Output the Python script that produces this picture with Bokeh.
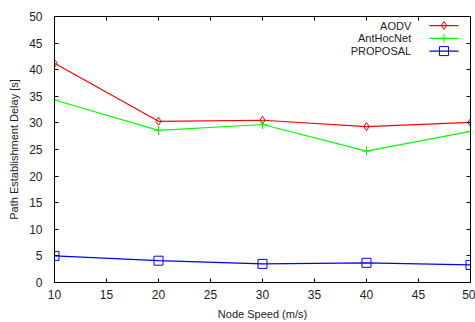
from bokeh.plotting import figure
from bokeh.models import LinearAxis, Range1d, FixedTicker, CustomJSTickFormatter
from bokeh.embed import file_html
from bokeh.resources import INLINE
from bokeh.core.properties import value

speeds = [10, 20, 30, 40, 50]
aodv = [41.2, 30.3, 30.5, 29.3, 30.1]
anthocnet = [34.3, 28.6, 29.7, 24.7, 28.4]
proposal = [5.0, 4.1, 3.5, 3.7, 3.3]

series_names = ["AODV", "AntHocNet", "PROPOSAL"]
x_ticks = [10, 15, 20, 25, 30, 35, 40, 45, 50]
y_ticks = [0, 5, 10, 15, 20, 25, 30, 35, 40, 45, 50]

FONT = "Liberation Sans"
TXT = "#222222"

p = figure(width=475, height=322, output_backend="svg", toolbar_location=None,
           x_range=Range1d(10, 50), y_range=Range1d(0, 50),
           min_border_left=54, min_border_right=5, min_border_top=16, min_border_bottom=39)
p.grid.visible = False
p.outline_line_color = "black"
p.outline_line_width = 1
p.background_fill_color = "white"
p.border_fill_color = "white"

for ax in (p.xaxis[0], p.yaxis[0]):
    ax.major_tick_in = 4
    ax.major_tick_out = 0
    ax.minor_tick_in = 0
    ax.minor_tick_out = 0
    ax.axis_line_color = "black"
    ax.major_tick_line_color = "black"
    ax.major_label_text_font = FONT
    ax.major_label_text_font_size = "12px"
    ax.major_label_text_color = TXT
    ax.axis_label_text_font = FONT
    ax.axis_label_text_font_size = "11px"
    ax.axis_label_text_font_style = "normal"
    ax.axis_label_text_color = TXT

p.xaxis[0].ticker = FixedTicker(ticks=x_ticks)
p.yaxis[0].ticker = FixedTicker(ticks=y_ticks)
p.xaxis[0].axis_label = "Node Speed (m/s)"
p.yaxis[0].axis_label = "Path Establishment Delay [s]"
p.xaxis[0].major_label_standoff = 7
p.yaxis[0].major_label_standoff = 12
p.xaxis[0].axis_label_standoff = 6
p.yaxis[0].axis_label_standoff = 6

blank = CustomJSTickFormatter(code="return ''")
top = LinearAxis(ticker=FixedTicker(ticks=x_ticks), formatter=blank,
                 major_tick_in=4, major_tick_out=0, minor_tick_in=0, minor_tick_out=0,
                 major_label_standoff=0, axis_line_color="black")
right = LinearAxis(ticker=FixedTicker(ticks=y_ticks), formatter=blank,
                   major_tick_in=4, major_tick_out=0, minor_tick_in=0, minor_tick_out=0,
                   major_label_standoff=0, axis_line_color="black")
p.add_layout(top, "above")
p.add_layout(right, "right")

colors = ["#ff0000", "#00ff00", "#0000ff"]
markers = ["diamond", "cross", "square"]
sizes = [8, 9, 9]
for ys, c, m, s in zip([aodv, anthocnet, proposal], colors, markers, sizes):
    p.line(speeds, ys, line_color=c, line_width=1.2)
    p.scatter(speeds, ys, marker=m, size=s, line_color=c, fill_color=None, line_width=1)

# legend (gnuplot style: label on the left, sample on the right)
leg_y = [48.3, 45.9, 43.5]
for name, c, m, s, yy in zip(series_names, colors, markers, sizes, leg_y):
    p.line([46.05, 48.85], [yy, yy], line_color=c, line_width=1.2)
    p.scatter([47.45], [yy], marker=m, size=s, line_color=c, fill_color=None, line_width=1)
    p.text([44.3], [yy], text=[name], text_align="right", text_baseline="middle",
           text_font=value(FONT), text_font_size="11px", text_color=TXT)

open("out.html", "w").write(file_html(p, INLINE))
